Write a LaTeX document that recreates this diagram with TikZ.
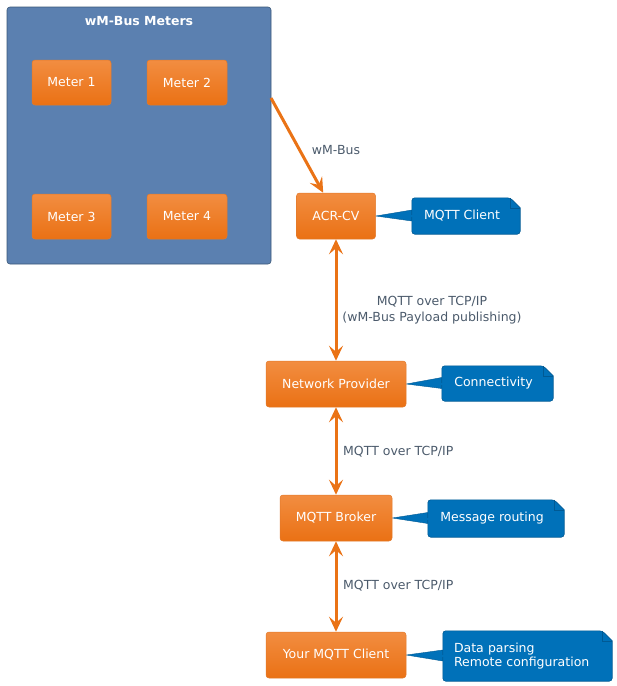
\documentclass[tikz,border=0pt]{standalone}
\usepackage{fontspec}
\setmainfont{DejaVu Sans}
\usetikzlibrary{arrows.meta}
\definecolor{clfill}{HTML}{5B80B0}
\definecolor{cldraw}{HTML}{3A5878}
\definecolor{otop}{HTML}{F28D41}
\definecolor{obot}{HTML}{EA7114}
\definecolor{odraw}{HTML}{E27A2C}
\definecolor{nfill}{HTML}{0071B9}
\definecolor{ndraw}{HTML}{005A94}
\definecolor{arr}{HTML}{EA7316}
\definecolor{lbl}{HTML}{4B5A6B}
\pgfdeclarelayer{bg}
\pgfsetlayers{bg,main}
\begin{document}
\begin{tikzpicture}[x=1pt,y=-1pt,
  font=\fontsize{12.5}{15}\selectfont,
  comp/.style={rectangle, rounded corners=3pt, top color=otop, bottom color=obot,
    draw=odraw, line width=0.5pt, text=white, minimum height=46pt, inner sep=0pt},
  notebox/.style={rectangle, text=white, minimum height=36pt, inner sep=0pt},
  lab/.style={text=lbl, inner sep=0pt},
  link/.style={draw=arr, line width=3pt,
    arrows={-Stealth[length=15pt,width=14pt,inset=6pt]}},
  dlink/.style={draw=arr, line width=3pt,
    arrows={Stealth[length=15pt,width=14pt,inset=6pt]-Stealth[length=15pt,width=14pt,inset=6pt]}}
]
\useasboundingbox (0,0) rectangle (617,686);

% cluster
\node[rectangle, rounded corners=3pt, fill=clfill, draw=cldraw, line width=0.6pt,
  minimum width=264pt, minimum height=257pt, inner sep=0pt] (cl) at (139,135.5) {};
\node[text=white, font=\fontsize{12.5}{15}\selectfont\bfseries] (cltitle) at (139,21) {wM-Bus Meters};

\node[comp, minimum width=79pt, minimum height=45pt] (m1) at (71.5,82.5) {Meter 1};
\node[comp, minimum width=80pt, minimum height=45pt] (m2) at (187,82.5) {Meter 2};
\node[comp, minimum width=79pt, minimum height=45pt] (m3) at (71.5,216.5) {Meter 3};
\node[comp, minimum width=80pt, minimum height=45pt] (m4) at (187,216.5) {Meter 4};

% components
\node[comp, minimum width=79pt] (acr) at (336,216) {ACR-CV};
\node[comp, minimum width=140pt] (np) at (336,384) {Network Provider};
\node[comp, minimum width=112pt] (br) at (336,518) {MQTT Broker};
\node[comp, minimum width=140pt] (cli) at (336,655) {Your MQTT Client};

% notes
\node[notebox, minimum width=108pt] (n1) at (466,216) {\hspace*{-8pt}MQTT Client};
\node[notebox, minimum width=111pt, minimum height=35pt] (n2) at (497.5,383.5) {\hspace*{-8pt}Connectivity};
\node[notebox, minimum width=136pt, minimum height=37pt] (n3) at (496,518.5) {\hspace*{-8pt}Message routing};
\node[notebox, minimum width=169pt, minimum height=50pt, align=left, text width=147pt,
  font=\fontsize{12.5}{14.5}\selectfont] (n4) at (527.5,656) {Data parsing\\Remote configuration};

\begin{pgfonlayer}{bg}
\foreach \c/\n in {acr/n1,np/n2,br/n3,cli/n4}{
  \fill[nfill, draw=ndraw, line width=0.4pt] (\c.east) -- ([yshift=6pt]\n.west) -- ([yshift=-5pt]\n.west) -- cycle;
  \filldraw[nfill, draw=ndraw, line width=0.6pt, rounded corners=3pt]
    (\n.north west) -- ([xshift=-10pt]\n.north east) [sharp corners] -- ([yshift=-10pt]\n.north east)
    [rounded corners=3pt] -- (\n.south east) -- (\n.south west) -- cycle;
  \draw[ndraw, line width=0.6pt] ([xshift=-10pt]\n.north east) -- ([xshift=-10pt,yshift=-10pt]\n.north east) -- ([yshift=-10pt]\n.north east);
  \fill[nfill] ([xshift=-1pt,yshift=-1pt]\n.west) rectangle ([xshift=2pt,yshift=1pt]\n.west);
}
\end{pgfonlayer}

% connectors
\coordinate (clE) at (271,98);
\draw[link] (clE) -- (acr);
\node[lab] (l1) at (336,150) {wM-Bus};
\draw[dlink] (acr) -- (np);
\node[lab, align=center, font=\fontsize{12.5}{15.5}\selectfont] (l2) at (432,310) {MQTT over TCP/IP\\(wM-Bus Payload publishing)};
\draw[dlink] (np) -- (br);
\node[lab, anchor=west] (l3) at (343,452) {MQTT over TCP/IP};
\draw[dlink] (br) -- (cli);
\node[lab, anchor=west] (l4) at (343,586) {MQTT over TCP/IP};
\end{tikzpicture}
\end{document}
